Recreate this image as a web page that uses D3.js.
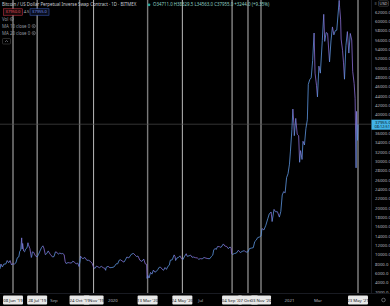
<!DOCTYPE html>
<html>
<head>
<meta charset="utf-8">
<script src="https://cdn.jsdelivr.net/npm/d3@7"></script>
<style>
  html, body { margin: 0; background: #000; }
  svg { display: block; font-family: "Noto Sans", sans-serif; }
</style>
</head>
<body>
<script>
// BitMEX XBTUSD daily (closes plus a few wick extremes)
const dates = [
  "2019-05-12","2019-05-14","2019-05-17","2019-05-20","2019-05-24","2019-05-27","2019-05-30","2019-06-02","2019-06-05","2019-06-07",
  "2019-06-11","2019-06-14","2019-06-17","2019-06-20","2019-06-22","2019-06-24","2019-06-26","2019-06-27","2019-06-28","2019-06-30",
  "2019-07-02","2019-07-04","2019-07-07","2019-07-09","2019-07-10","2019-07-13","2019-07-16","2019-07-17","2019-07-18","2019-07-21",
  "2019-07-24","2019-07-28","2019-07-31","2019-08-03","2019-08-06","2019-08-09","2019-08-11","2019-08-14","2019-08-17","2019-08-20",
  "2019-08-24","2019-08-29","2019-09-01","2019-09-04","2019-09-07","2019-09-10","2019-09-13","2019-09-16","2019-09-19","2019-09-22",
  "2019-09-24","2019-09-26","2019-09-30","2019-10-03","2019-10-07","2019-10-10","2019-10-14","2019-10-17","2019-10-20","2019-10-23",
  "2019-10-25","2019-10-26","2019-10-28","2019-10-31","2019-11-04","2019-11-08","2019-11-12","2019-11-16","2019-11-19","2019-11-22",
  "2019-11-25","2019-11-28","2019-12-01","2019-12-04","2019-12-08","2019-12-12","2019-12-15","2019-12-17","2019-12-18","2019-12-22",
  "2019-12-26","2019-12-30","2020-01-03","2020-01-06","2020-01-08","2020-01-11","2020-01-14","2020-01-17","2020-01-20","2020-01-24",
  "2020-01-27","2020-01-30","2020-02-03","2020-02-06","2020-02-09","2020-02-13","2020-02-16","2020-02-19","2020-02-22","2020-02-26",
  "2020-03-01","2020-03-05","2020-03-08","2020-03-11","2020-03-12","2020-03-13","2020-03-16","2020-03-19","2020-03-22","2020-03-25",
  "2020-03-28","2020-03-31","2020-04-03","2020-04-06","2020-04-09","2020-04-12","2020-04-15","2020-04-18","2020-04-21","2020-04-24",
  "2020-04-27","2020-04-29","2020-05-03","2020-05-07","2020-05-09","2020-05-10","2020-05-13","2020-05-16","2020-05-19","2020-05-22",
  "2020-05-25","2020-05-28","2020-06-01","2020-06-03","2020-06-07","2020-06-10","2020-06-13","2020-06-16","2020-06-20","2020-06-24",
  "2020-06-27","2020-06-30","2020-07-04","2020-07-08","2020-07-12","2020-07-16","2020-07-20","2020-07-23","2020-07-26","2020-07-28",
  "2020-07-31","2020-08-02","2020-08-05","2020-08-09","2020-08-12","2020-08-17","2020-08-20","2020-08-24","2020-08-27","2020-08-31",
  "2020-09-02","2020-09-03","2020-09-05","2020-09-09","2020-09-13","2020-09-17","2020-09-21","2020-09-25","2020-09-29","2020-10-03",
  "2020-10-07","2020-10-10","2020-10-14","2020-10-18","2020-10-21","2020-10-24","2020-10-27","2020-10-31","2020-11-03","2020-11-05",
  "2020-11-09","2020-11-13","2020-11-17","2020-11-20","2020-11-24","2020-11-26","2020-11-30","2020-12-03","2020-12-07","2020-12-11",
  "2020-12-14","2020-12-17","2020-12-20","2020-12-23","2020-12-26","2020-12-29","2021-01-01","2021-01-03","2021-01-06","2021-01-08",
  "2021-01-10","2021-01-11","2021-01-14","2021-01-17","2021-01-20","2021-01-22","2021-01-24","2021-01-27","2021-01-29","2021-02-01",
  "2021-02-04","2021-02-07","2021-02-09","2021-02-12","2021-02-15","2021-02-18","2021-02-21","2021-02-23","2021-02-26","2021-02-28",
  "2021-03-03","2021-03-06","2021-03-10","2021-03-13","2021-03-15","2021-03-18","2021-03-21","2021-03-25","2021-03-28","2021-03-31",
  "2021-04-03","2021-04-06","2021-04-09","2021-04-14","2021-04-15","2021-04-17","2021-04-18","2021-04-21","2021-04-23","2021-04-25",
  "2021-04-28","2021-05-01","2021-05-04","2021-05-07","2021-05-10","2021-05-12","2021-05-15","2021-05-17","2021-05-19","2021-05-20",
  "2021-05-21","2021-05-22","2021-05-23"
];
const prices = [
  6950,7990,7360,7980,7990,8730,8270,8730,7800,8030,
  8000,8250,9340,9520,10700,11000,13600,11200,12400,10800,
  10600,11200,11450,12550,12100,11300,9400,9700,10600,10500,
  9800,9500,10080,10800,11500,11900,11400,10000,10250,10800,
  10100,9500,9600,10600,10500,10100,10350,10200,10250,10000,
  8550,8100,8300,8250,8200,8600,8350,8000,8200,7450,
  8650,9700,9350,9150,9400,8800,8800,8500,8150,7300,
  7050,7550,7400,7200,7500,7200,7100,6650,7280,7500,
  7200,7250,7350,7750,8050,8050,8800,8900,8650,8400,
  8900,9500,9300,9750,10150,10250,9900,9600,9700,8800,
  8550,9050,8050,7900,4900,5600,5000,6200,5830,6700,
  6250,6400,6800,7300,7300,6900,6650,7250,6850,7500,
  7750,8800,8900,9950,9550,8750,9300,9400,9750,9150,
  8900,9550,10200,9650,9750,9900,9450,9500,9350,9300,
  9000,9150,9100,9400,9250,9150,9150,9600,9900,11000,
  11350,11100,11750,11700,11550,12300,11850,11750,11300,11650,
  11400,10200,10050,10250,10350,10950,10450,10700,10850,10550,
  10600,11300,11400,11500,12800,13100,13650,13800,14000,15600,
  15300,16300,17700,18700,19150,17100,19700,19200,19200,18050,
  19250,22800,23500,23250,26500,27350,29400,32200,36800,41200,
  38200,35500,39200,35800,35500,29800,32300,30400,34300,33500,
  37000,38900,46500,47500,47900,51600,57500,48900,46300,43800,
  50400,48900,55900,61500,55700,57600,57400,51300,55800,58800,
  57100,58000,58100,64500,62900,60300,56200,53800,51100,47600,
  54800,57800,53200,57400,56000,49300,46700,43500,28600,40700,
  37300,34500,37955
];
const priceTicks = d3.range(2000, 64001, 2000);
// month ticks that stay visible between the marker labels
const monthTicks = ["2019-09-01","2020-01-01","2020-07-01","2021-01-01","2021-03-01"];
// vertical drawings with their time-axis labels, in drawing order
const markers = ["2019-06-08","2019-07-28","2019-11-22","2019-10-24","2020-03-13","2020-05-24",
                 "2020-09-04","2020-10-07","2020-11-03","2021-05-23"];
const darkMarkers = ["2019-10-24","2020-03-13"];
const lastPrice = 37955;
const countdown = "08:12:51";
const sellPrice = "37950.0", buyPrice = "37955.0", spread = "4.5";
const title = "Bitcoin / US Dollar Perpetual Inverse Swap Contract · 1D · BITMEX";
const ohlc = "O34711.0 H38329.5 L34563.0 C37955.0 +3244.0 (+9.35%)";
const indicators = ["Vol", "MA 10 close 0", "MA 20 close 0"];

const width = 390, height = 306;
const plotRight = 371, plotBottom = 293;
const parse = d3.utcParse("%Y-%m-%d");

const x = d3.scaleUtc()
  .domain([parse("2019-06-08"), parse("2021-05-23")])
  .range([13, 358]);
const y = d3.scaleLinear().domain([2000, 62000]).range([292, 12]);

const svg = d3.select("body").append("svg")
  .attr("width", width).attr("height", height)
  .attr("viewBox", [0, 0, width, height]);

svg.append("rect").attr("width", width).attr("height", height).attr("fill", "#000");

const plot = svg.append("g");
plot.append("clipPath").attr("id", "clip")
  .append("rect").attr("width", plotRight).attr("height", plotBottom);

// vertical drawings
plot.append("g").selectAll("line").data(markers).join("line")
  .attr("x1", d => x(parse(d))).attr("x2", d => x(parse(d)))
  .attr("y1", 0).attr("y2", plotBottom)
  .attr("stroke", d => darkMarkers.includes(d) ? "#7a7a7a" : "#cfcfcf")
  .attr("stroke-width", d => darkMarkers.includes(d) ? 1.4 : 0.9);

// last price line
plot.append("line")
  .attr("x1", 0).attr("x2", plotRight)
  .attr("y1", y(lastPrice)).attr("y2", y(lastPrice))
  .attr("stroke", "#4a4a4a").attr("stroke-width", 0.7);

// price line, segments coloured by direction
const pts = dates.map((d, i) => ({ t: parse(d), v: prices[i] }));
plot.append("g").attr("clip-path", "url(#clip)")
  .selectAll("line").data(d3.pairs(pts)).join("line")
  .attr("x1", d => x(d[0].t)).attr("y1", d => y(d[0].v))
  .attr("x2", d => x(d[1].t)).attr("y2", d => y(d[1].v))
  .attr("stroke", d => d[1].v >= d[0].v ? "#5d95e0" : "#8a6fd6")
  .attr("stroke-width", 0.8);

// price axis (ticks under the currency and last-price labels are hidden)
const pa = svg.append("g");
pa.append("line").attr("x1", plotRight + 0.5).attr("x2", plotRight + 0.5)
  .attr("y1", 0).attr("y2", plotBottom).attr("stroke", "#2a2e39").attr("stroke-width", 0.6);
pa.selectAll("text")
  .data(priceTicks.filter(d => y(d) > 8 && Math.abs(y(d) - y(lastPrice)) > 6))
  .join("text")
  .attr("x", 375).attr("y", d => y(d)).attr("dy", "0.35em")
  .attr("fill", "#b2b5be").attr("font-size", 4.3)
  .text(d => d3.format(".1f")(d));

// currency label
pa.append("text").attr("x", 374.5).attr("y", 4.8).attr("fill", "#b2b5be").attr("font-size", 4).text("≡");
pa.append("rect").attr("x", 378.5).attr("y", 0.8).attr("width", 10).attr("height", 5.4)
  .attr("fill", "none").attr("stroke", "#777").attr("stroke-width", 0.4).attr("rx", 1);
pa.append("text").attr("x", 383.5).attr("y", 4.9).attr("text-anchor", "middle")
  .attr("fill", "#d1d4dc").attr("font-size", 4).text("USD");

// last price box
pa.append("rect").attr("x", plotRight + 0.5).attr("y", y(lastPrice) - 4.5)
  .attr("width", width - plotRight).attr("height", 10).attr("fill", "#41b3e8");
pa.append("text").attr("x", 375).attr("y", y(lastPrice) - 0.6)
  .attr("fill", "#0b1620").attr("font-size", 4.3).text(d3.format(".1f")(lastPrice));
pa.append("text").attr("x", 374.5).attr("y", y(lastPrice) + 4)
  .attr("fill", "#0b1620").attr("font-size", 3.9).text(countdown);

// time axis
const ta = svg.append("g");
ta.append("rect").attr("x", 0).attr("y", plotBottom).attr("width", width)
  .attr("height", height - plotBottom).attr("fill", "#000");
ta.append("line").attr("x1", 0).attr("x2", width).attr("y1", plotBottom + 0.5).attr("y2", plotBottom + 0.5)
  .attr("stroke", "#2a2e39").attr("stroke-width", 0.6);
const monthFmt = d => d.getUTCMonth() === 0 ? d3.utcFormat("%Y")(d) : d3.utcFormat("%b")(d);
ta.selectAll("text.m").data(monthTicks).join("text").attr("class", "m")
  .attr("x", d => x(parse(d))).attr("y", 301.5).attr("text-anchor", "middle")
  .attr("fill", "#b2b5be").attr("font-size", 4.3)
  .text(d => monthFmt(parse(d)));

const boxFmt = d3.utcFormat("%d %b '%y");
const mk = ta.selectAll("g.mk").data(markers).join("g").attr("class", "mk")
  .attr("transform", d => `translate(${x(parse(d))},0)`);
mk.append("rect").attr("x", -10).attr("y", 295.5).attr("width", 20).attr("height", 9)
  .attr("rx", 1).attr("fill", "#e8e8e8");
mk.append("text").attr("y", 301.6).attr("text-anchor", "middle")
  .attr("fill", "#131722").attr("font-size", 4.3).text(d => boxFmt(parse(d)));

// settings gear
ta.append("circle").attr("cx", 383.5).attr("cy", 300).attr("r", 1.8)
  .attr("fill", "none").attr("stroke", "#9598a1").attr("stroke-width", 0.6);

// legend
const lg = svg.append("g").attr("font-size", 4.4);
lg.append("text").attr("x", 2).attr("y", 6.2).attr("fill", "#c8cbd3").text(title);
lg.append("circle").attr("cx", 149).attr("cy", 4.8).attr("r", 1.4).attr("fill", "#26a69a");
lg.append("text").attr("x", 153).attr("y", 6.2).attr("fill", "#8fd0c4").text(ohlc);

lg.append("rect").attr("x", 3.5).attr("y", 8.8).attr("width", 19).attr("height", 6.4)
  .attr("fill", "#1a0a0c").attr("stroke", "#d9394a").attr("stroke-width", 0.5);
lg.append("text").attr("x", 13).attr("y", 13.4).attr("text-anchor", "middle")
  .attr("fill", "#e0505e").attr("font-size", 4).text(sellPrice);
lg.append("text").attr("x", 26.5).attr("y", 13.4).attr("text-anchor", "middle")
  .attr("fill", "#b2b5be").attr("font-size", 4).text(spread);
lg.append("rect").attr("x", 30).attr("y", 8.8).attr("width", 19).attr("height", 6.4)
  .attr("fill", "#0a0e1c").attr("stroke", "#3e63c9").attr("stroke-width", 0.5);
lg.append("text").attr("x", 39.5).attr("y", 13.4).attr("text-anchor", "middle")
  .attr("fill", "#6f8fe8").attr("font-size", 4).text(buyPrice);

const ind = lg.selectAll("g.ind").data(indicators).join("g").attr("class", "ind")
  .attr("transform", (d, i) => `translate(2,${20.5 + i * 7})`);
ind.append("text").attr("fill", "#9598a1").text(d => d);
ind.each(function (d) {
  const w = this.querySelector("text").getComputedTextLength();
  const g = d3.select(this);
  g.append("circle").attr("cx", w + 3.5).attr("cy", -1.4).attr("r", 1.7)
    .attr("fill", "none").attr("stroke", "#9598a1").attr("stroke-width", 0.5);
  g.append("circle").attr("cx", w + 3.5).attr("cy", -1.4).attr("r", 0.6).attr("fill", "#9598a1");
});
lg.append("rect").attr("x", 2.5).attr("y", 38.5).attr("width", 8).attr("height", 5.5)
  .attr("rx", 0.8).attr("fill", "none").attr("stroke", "#555").attr("stroke-width", 0.5);
lg.append("path").attr("d", "M5,42 L6.5,40.5 L8,42").attr("fill", "none")
  .attr("stroke", "#b2b5be").attr("stroke-width", 0.5);
</script>
</body>
</html>
